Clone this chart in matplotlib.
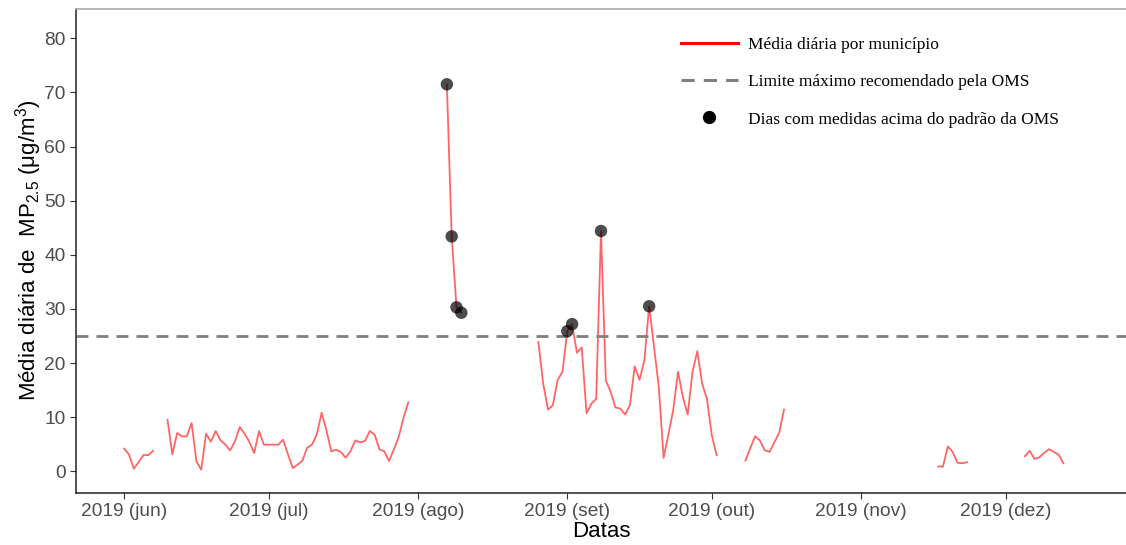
import numpy as np
import pandas as pd
import matplotlib
matplotlib.use("Agg")
import matplotlib.pyplot as plt
from matplotlib.lines import Line2D

plt.rcParams['font.family'] = ['Liberation Sans', 'DejaVu Sans']
plt.rcParams['mathtext.fontset'] = 'custom'
plt.rcParams['mathtext.rm'] = 'Liberation Sans'
plt.rcParams['mathtext.it'] = 'Liberation Sans:italic'

# daily means (µg/m³), one block per run of consecutive days
jun_a_start = '2019-06-01'
jun_a = [4.2, 3.1, 0.5, 1.7, 3.0, 3.0, 3.8]

jun_b_start = '2019-06-10'
jun_b = [9.55, 3.14, 7.09, 6.47, 6.47, 8.93, 1.85, 0.31, 6.96, 5.48,
         7.46, 5.73, 4.93, 3.88, 5.55, 8.19, 6.96, 5.42, 3.39, 7.46,
         4.93, 4.93, 4.93, 4.93, 5.85, 3.14, 0.62, 1.23, 1.97, 4.37,
         4.93, 6.84, 10.84, 7.58, 3.70, 4.0, 3.57, 2.53, 3.76, 5.73,
         5.36, 5.61, 7.46, 6.78, 4.07, 3.70, 1.91, 4.07, 6.35, 9.92,
         12.75]

ago_start = '2019-08-07'
ago = [71.5, 43.4, 30.3, 29.3]

set_start = '2019-08-26'
setb = [23.9, 16.2, 11.4, 12.2, 16.9, 18.4, 25.9, 27.2, 21.9, 22.9,
        10.7, 12.5, 13.4, 44.4, 16.8, 14.7, 11.8, 11.6, 10.5, 12.2,
        19.4, 16.9, 20.5, 30.5, 23.1, 15.6, 2.5, 6.8, 11.4, 18.4,
        13.7, 10.5, 18.4, 22.2, 16.2, 13.4, 6.7, 3.0]

out_start = '2019-10-08'
out = [2.0, 4.3, 6.5, 5.7, 3.9, 3.6, 5.4, 7.1, 11.4]

nov_start = '2019-11-17'
nov = [0.9, 0.9, 4.6, 3.6, 1.6, 1.5, 1.7]

dez_start = '2019-12-05'
dez = [2.8, 3.8, 2.3, 2.6, 3.4, 4.1, 3.6, 3.1, 1.5]

oms_limit = 25
month_labels = ['2019 (jun)', '2019 (jul)', '2019 (ago)', '2019 (set)',
                '2019 (out)', '2019 (nov)', '2019 (dez)']

blocks = [(jun_a_start, jun_a), (jun_b_start, jun_b), (ago_start, ago),
          (set_start, setb), (out_start, out), (nov_start, nov), (dez_start, dez)]
parts = [pd.Series(v, index=pd.date_range(s, periods=len(v), freq='D')) for s, v in blocks]
serie = pd.concat(parts)
serie = serie.reindex(pd.date_range('2019-06-01', '2019-12-31', freq='D'))
acima = serie[serie > oms_limit]

fig = plt.figure(figsize=(11.26, 5.45), dpi=100)
ax = fig.add_axes([76 / 1126, 1 - 492.5 / 545, 1 - 76 / 1126, (492.5 - 8.5) / 545])

ax.plot(serie.index, serie.values, color='#FF2A2A', alpha=0.72, lw=1.3)
ax.axhline(oms_limit, color='#7F7F7F', lw=2.0, dashes=(4.3, 2.9))
ax.scatter(acima.index, acima.values, s=80, color='black', alpha=0.7,
           edgecolors='none', zorder=3)

ax.set_xlim(pd.Timestamp('2019-05-22'), pd.Timestamp('2019-12-26'))
ax.set_ylim(-3.9, 85.5)
ax.set_yticks(range(0, 81, 10))
ticks = pd.date_range('2019-06-01', '2019-12-01', freq='MS')
ax.set_xticks(ticks)
ax.set_xticklabels(month_labels)

ax.tick_params(colors='#333333', labelcolor='#4D4D4D', labelsize=13.8, length=4)
for side in ['left', 'bottom']:
    ax.spines[side].set_color('#222222')
    ax.spines[side].set_linewidth(1.1)
ax.spines['top'].set_color('#AAAAAA')
ax.spines['top'].set_linewidth(1.2)
ax.spines['right'].set_visible(False)

ax.set_xlabel('Datas', fontsize=16, labelpad=1)
ax.set_ylabel('Média diária de  MP$_{\\mathrm{2.5}}$ (μg/m$^{\\mathrm{3}}$)', fontsize=16, labelpad=0)

handles = [Line2D([], [], color='red', lw=2.2),
           Line2D([], [], color='#7F7F7F', lw=2.2, dashes=(4.3, 3.0)),
           Line2D([], [], color='black', marker='o', ls='none', markersize=8.5)]
labels = ['Média diária por município', 'Limite máximo recomendado pela OMS',
          'Dias com medidas acima do padrão da OMS']
leg = ax.legend(handles, labels, loc='upper left', frameon=False,
                bbox_to_anchor=(672 / 1126, 1 - 28 / 545), bbox_transform=fig.transFigure,
                prop={'family': 'Liberation Serif', 'size': 12.5},
                handlelength=3.3, handletextpad=0.6, labelspacing=1.22, borderpad=0)

fig.savefig('out.png', dpi=100)
